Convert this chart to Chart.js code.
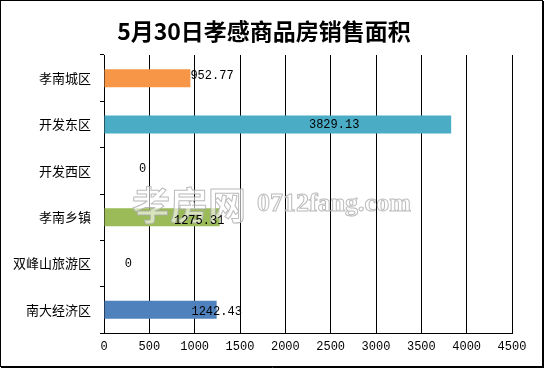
<!DOCTYPE html>
<html>
<head>
<meta charset="utf-8">
<script src="https://cdn.jsdelivr.net/npm/chart.js@4/dist/chart.umd.min.js"></script>
<style>
  html, body { margin: 0; padding: 0; background: #fff; }
  #wrap { width: 545px; height: 368px; position: relative; }
</style>
</head>
<body>
<div id="wrap"><canvas id="c" width="545" height="368"></canvas></div>
<script>
// ---- data ----
const titleText = '5月30日孝感商品房销售面积';
const categories = ['孝南城区', '开发东区', '开发西区', '孝南乡镇', '双峰山旅游区', '南大经济区'];
const areaValues = [952.77, 3829.13, 0, 1275.31, 0, 1242.43];
const valueLabels = ['952.77', '3829.13', '0', '1275.31', '0', '1242.43'];
const xTickValues = [0, 500, 1000, 1500, 2000, 2500, 3000, 3500, 4000, 4500];
const watermarkCN = '孝房网';
const watermarkEN = '0712fang.com';

// ---- styles ----
const barColors = ['#F79646', '#4BACC6', '#4F81BD', '#9BBB59', '#4F81BD', '#4F81BD'];
// label placement relative to bar end: [dx, dy, align]
const labelPlacement = [
  [0, -2, 'left'],
  [-117, 0, 'center'],
  [38.7, -2.5, 'center'],
  [-20.5, 4, 'center'],
  [24.3, 0, 'center'],
  [0, 1.5, 'center']
];

const bgPlugin = {
  id: 'bg',
  beforeDraw(chart) {
    const ctx = chart.ctx;
    ctx.save();
    ctx.fillStyle = '#fff';
    ctx.fillRect(0, 0, chart.width, chart.height);
    ctx.restore();
  },
  afterDraw(chart) {
    const ctx = chart.ctx;
    ctx.save();
    // title
    ctx.font = 'bold 23px "Noto Sans CJK SC"';
    ctx.fillStyle = '#000';
    ctx.textAlign = 'center';
    ctx.textBaseline = 'middle';
    ctx.fillText(titleText, 264, 31);
    // border
    ctx.strokeStyle = '#000';
    ctx.lineWidth = 1;
    ctx.strokeRect(0.5, 0.5, 542, 366);
    ctx.beginPath();
    ctx.moveTo(543.5, 1); ctx.lineTo(543.5, 368);
    ctx.moveTo(1, 367.5); ctx.lineTo(544, 367.5);
    ctx.stroke();
    ctx.restore();
  }
};

const labelPlugin = {
  id: 'valueLabels',
  afterDatasetsDraw(chart) {
    const ctx = chart.ctx;
    const meta = chart.getDatasetMeta(0);
    ctx.save();
    // watermark
    ctx.textBaseline = 'alphabetic';
    ctx.textAlign = 'left';
    ctx.lineJoin = 'round';
    ctx.font = 'bold 38px "Noto Sans CJK SC"';
    ctx.fillStyle = 'rgba(255,255,255,0.6)';
    ctx.strokeStyle = 'rgba(170,170,170,0.8)';
    ctx.lineWidth = 1;
    ctx.fillText(watermarkCN, 132, 219);
    ctx.strokeText(watermarkCN, 132, 219);
    ctx.font = 'bold 26px "Liberation Serif"';
    ctx.fillText(watermarkEN, 257, 211);
    ctx.strokeText(watermarkEN, 257, 211);
    // value labels
    ctx.font = '12px "Liberation Mono", "DejaVu Sans Mono", monospace';
    ctx.fillStyle = '#000';
    ctx.textBaseline = 'middle';
    meta.data.forEach((bar, i) => {
      const p = labelPlacement[i];
      ctx.textAlign = p[2];
      ctx.fillText(valueLabels[i], bar.x + p[0], bar.y + p[1]);
    });
    ctx.restore();
  }
};

new Chart(document.getElementById('c'), {
  type: 'bar',
  data: {
    labels: categories,
    datasets: [{
      data: areaValues,
      backgroundColor: barColors,
      borderWidth: 0,
      categoryPercentage: 1,
      barPercentage: 0.39
    }]
  },
  options: {
    indexAxis: 'y',
    responsive: false,
    animation: false,
    devicePixelRatio: 1,
    layout: { padding: { left: 0, right: 33, top: 0, bottom: 0 } },
    plugins: {
      legend: { display: false },
      tooltip: { enabled: false },
      title: {
        display: true,
        text: titleText,
        color: 'rgba(0,0,0,0)',
        font: { family: '"Noto Sans CJK SC"', size: 22, weight: 'bold' },
        padding: { top: 18, bottom: 10.6 }
      }
    },
    scales: {
      x: {
        type: 'linear',
        min: 0,
        max: 4500,
        afterBuildTicks(axis) { axis.ticks = xTickValues.map(v => ({ value: v })); },
        grid: { color: '#000', lineWidth: 1, drawTicks: false },
        border: { color: '#000', width: 1 },
        ticks: {
          color: '#000',
          padding: 7,
          maxRotation: 0,
          callback: (v) => String(v),
          font: { family: '"Liberation Mono", "DejaVu Sans Mono", monospace', size: 12 }
        },
        afterFit(axis) { axis.height = 35; }
      },
      y: {
        type: 'category',
        grid: { color: '#000', drawOnChartArea: false, drawTicks: true, tickLength: 4, offset: true },
        border: { color: '#000', width: 1 },
        ticks: {
          color: '#000',
          padding: 9,
          font: { family: '"Noto Sans CJK SC"', size: 13 }
        },
        afterFit(axis) { axis.width = 104; }
      }
    }
  },
  plugins: [bgPlugin, labelPlugin]
});
</script>
</body>
</html>
